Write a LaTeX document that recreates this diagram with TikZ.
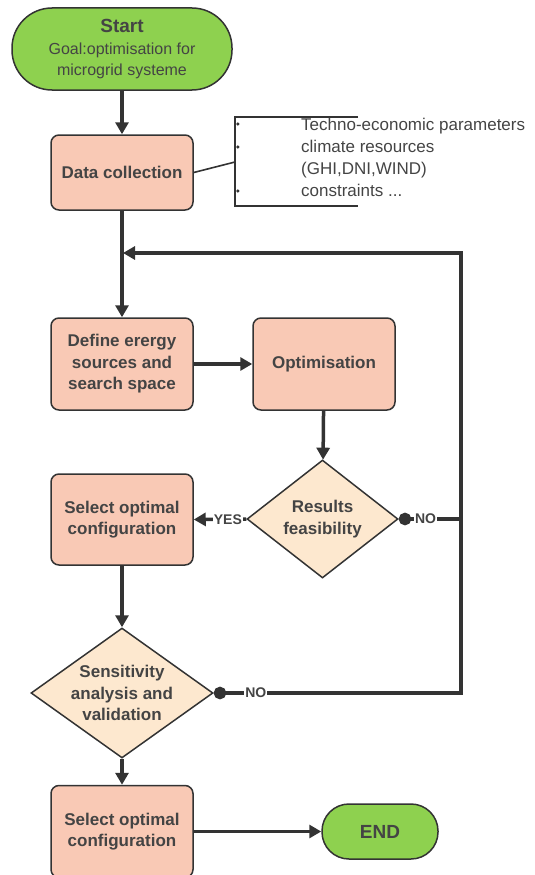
\documentclass[tikz,border=0pt]{standalone}
\usepackage{fontspec}
\setmainfont{Liberation Sans}
\usetikzlibrary{arrows.meta,shapes.geometric}
\definecolor{gr}{HTML}{8ED14F}
\definecolor{bx}{HTML}{F9C9B5}
\definecolor{dm}{HTML}{FDE8CF}
\definecolor{ln}{HTML}{333333}
\definecolor{tx}{HTML}{444444}
\begin{document}
\begin{tikzpicture}[x=1pt,y=-1pt,
  box/.style={rectangle,rounded corners=8pt,draw=ln,line width=1.5pt,fill=bx,minimum width=142pt,inner sep=0pt,align=center,text=tx,font=\fontsize{17}{21.5}\selectfont\bfseries},
  term/.style={rectangle,rounded corners=27pt,draw=ln,line width=1.5pt,fill=gr,inner sep=0pt,align=center,text=tx},
  dia/.style={diamond,draw=ln,line width=1.5pt,fill=dm,inner sep=0pt},
  dtext/.style={align=center,text=tx,inner sep=0pt,font=\fontsize{17}{21.5}\selectfont\bfseries},
  conn/.style={draw=ln,line width=3.5pt},
  arr/.style={conn,-{Triangle[length=12pt,width=13pt]}},
  dotconn/.style={conn,{Circle[length=12.5pt]}-},
  lbl/.style={fill=white,inner sep=1pt,text=tx,font=\fontsize{14}{16}\selectfont\bfseries},
  thin/.style={draw=ln,line width=1.6pt}
]
\clip (0,0) rectangle (535,875);
% terminals
\node[term,minimum width=220pt,minimum height=82pt,rounded corners=40pt,font=\fontsize{16}{21}\selectfont] (start) at (122,49)
  {{\fontsize{19}{22}\selectfont\bfseries Start}\\[1pt]
   Goal:optimisation for\\ microgrid systeme};
\node[term,minimum width=116pt,minimum height=55pt,font=\fontsize{19}{22}\selectfont\bfseries] (end) at (380,831.5) {END};
% boxes
\node[box,minimum height=75pt] (dc) at (122,172.5) {Data collection};
\node[box,minimum height=92pt] (def) at (122,364) {Define erergy\\sources and\\search space};
\node[box,minimum height=92pt] (opt) at (324,364) {Optimisation};
\node[box,minimum height=91pt] (sel) at (122,519.5) {Select optimal\\configuration};
\node[box,minimum height=92pt] (sel2) at (122,831.5) {Select optimal\\configuration};
% diamonds
\node[dia,minimum width=151pt,minimum height=118pt] (res) at (322.5,519) {};
\node[dtext] (restxt) at (res) {Results\\feasibility};
\node[dia,minimum width=182pt,minimum height=130pt] (sens) at (122,693) {};
\node[dtext] (senstxt) at (sens) {Sensitivity\\analysis and\\validation};
% annotation bracket
\coordinate (brk) at (235,162);
\draw[thin] (358,117) -- (235,117) -- (235,206) -- (358,206);
\fill[ln] (237.8,124) circle (1.8pt) (237.8,147) circle (1.8pt) (237.8,191) circle (1.8pt);
\node[anchor=north west,align=left,inner sep=0pt,text=tx,font=\fontsize{17}{22}\selectfont] (info) at (301,118)
  {Techno-economic parameters\\climate resources\\(GHI,DNI,WIND)\\constraints ...};
\draw[thin] (dc.east) -- (brk);
% loop coordinates
\coordinate (rt) at (461,253);
\coordinate (lt) at (123,253);
\coordinate (r1) at (461,519);
\coordinate (r2) at (461,693);
% connectors
\draw[arr] (start) -- (dc);
\draw[arr] (dc) -- (def);
\draw[arr] (def) -- (opt);
\draw[arr] (opt) -- (res);
\draw[arr] (res.west) -- node[lbl,pos=0.35]{YES} (sel.east);
\draw[dotconn] (res.east) -- node[lbl,pos=0.43]{NO} (r1);
\draw[arr] (r1) -- (rt) -- (lt);
\draw[dotconn] (sens.east) -- node[lbl,pos=0.17]{NO} (r2) -- (r1);
\draw[arr] (sel) -- (sens);
\draw[arr] (sens) -- (sel2);
\draw[arr] (sel2) -- (end);
\end{tikzpicture}
\end{document}
